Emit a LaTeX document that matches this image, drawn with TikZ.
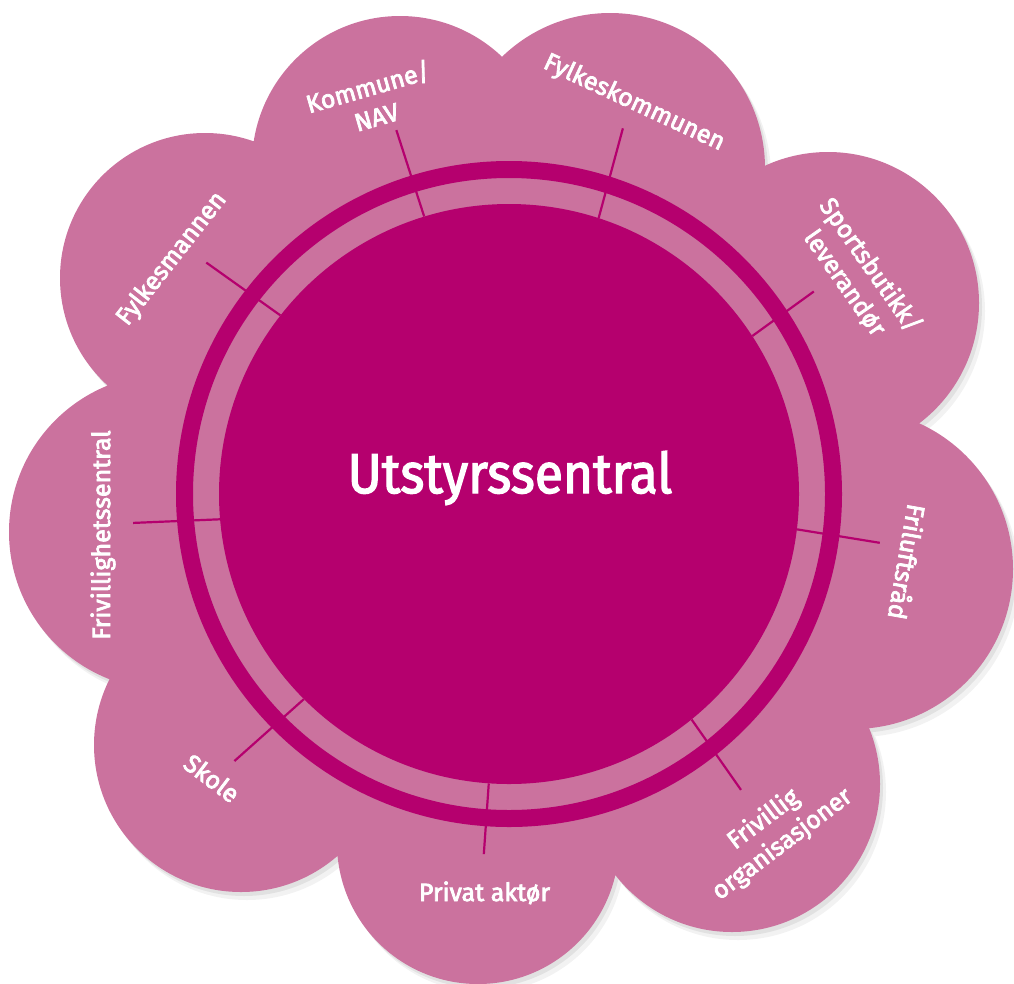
\documentclass[tikz,border=0pt]{standalone}
\usepackage{fontspec}
\setmainfont{Fira Sans}
\newfontfamily\lblfont{Fira Sans}[FakeBold=3]
\newfontfamily\titlefont{Fira Sans}[FakeBold=2.5]
\usetikzlibrary{calc}
\definecolor{petal}{HTML}{CB729E}
\definecolor{hubc}{HTML}{B5006E}
\newcommand{\flowerpath}{(400,-164) circle (148) (610,-168) circle (155) (828,-303) circle (151) (853,-569) circle (160) (732,-784) circle (148) (478,-843) circle (141) (241,-745) circle (147) (167,-532) circle (158) (205,-278) circle (145) (509,-494) circle (380)}
\begin{document}
\begin{tikzpicture}[x=1pt,y=1pt,
  lbl/.style={text=white, font=\lblfont\fontsize{25}{31}\selectfont, align=center, inner sep=0pt},
  spoke/.style={draw=hubc, line width=2.2pt},
  hubnode/.style={circle, fill=hubc, minimum size=580pt, inner sep=0pt},
  ring/.style={draw=hubc, line width=17pt}
]
\useasboundingbox (0,0) rectangle (1014,-983);
\begin{scope}[shift={(6,-8)}]
  \fill[black,opacity=0.05] \flowerpath;
\end{scope}
\begin{scope}[shift={(3,-4)}]
  \fill[black,opacity=0.07] \flowerpath;
\end{scope}
\fill[petal] \flowerpath;
\draw[ring] (509,-494) circle (324.5);
\node[hubnode] (hub) at (509,-494) {};
\node[text=white, font=\titlefont\fontsize{56}{60}\selectfont, inner sep=0pt, anchor=base] (title) at (510,-493) {\scalebox{0.92}[1]{Utstyrssentral}};
\foreach \a/\r [count=\i] in {107.2/381, 72.7/383, 33.6/366, -7.5/374, -51.9/376, -94/361, -135.8/383, -175.6/377, 142.6/381}{
  \coordinate (e\i) at ($(hub.center)+(\a:\r)$);
  \draw[spoke] (hub.\a) -- (e\i);
}
\node[lbl, rotate=16] (l1) at (372,-101) {Kommune/\\NAV};
\node[lbl, rotate=-25] (l2) at (634,-103) {Fylkeskommunen};
\node[lbl, rotate=-55] (l3) at (858,-274) {Sportsbutikk/\\leverandør};
\node[lbl, rotate=-100] (l4) at (908,-562) {Friluftsråd};
\node[lbl, rotate=37] (l5) at (773,-832) {Frivillig\\organisasjoner};
\node[lbl, anchor=base] (l6) at (484.5,-901) {Privat aktør};
\node[lbl, rotate=-37] (l7) at (212,-778) {Skole};
\node[lbl, rotate=90] (l8) at (103,-535) {Frivillighetssentral};
\node[lbl, rotate=52] (l9) at (172,-259) {Fylkesmannen};
\end{tikzpicture}
\end{document}
